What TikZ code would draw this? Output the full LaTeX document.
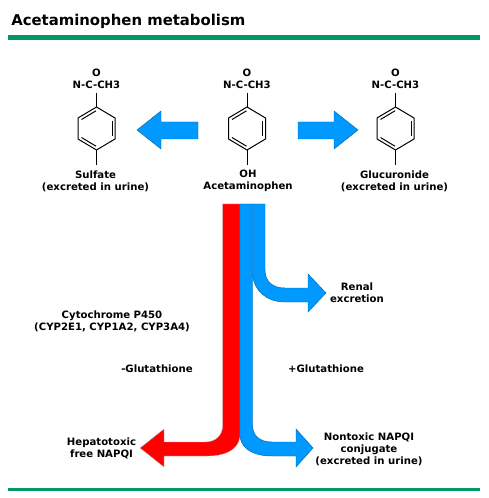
\documentclass[tikz,border=0pt]{standalone}
\usepackage{fontspec}
\setmainfont{DejaVu Sans}
\usepackage{xcolor}
\definecolor{rule}{HTML}{009966}
\definecolor{flowB}{HTML}{0099FF}
\definecolor{flowR}{HTML}{FF0000}
\tikzset{
  lab/.style={font=\fontsize{7.6}{9}\selectfont\bfseries,align=center,inner sep=0pt},
  flowb/.style={fill=flowB,draw=flowB!68!black,line width=0.35pt},
  flowr/.style={fill=flowR,draw=gray!50,line width=0.3pt},
  bond/.style={black,line width=0.75pt}
}
\newcommand{\ringat}[1]{%
  \begin{scope}[shift={(#1,0)}]
  \draw[bond] (0,93) -- (0,107);
  \draw[bond] (0,150) -- (0,165);
  \draw[bond,line join=miter] (0,107) -- (18.5,118) -- (18.5,139) -- (0,150) -- (-18.5,139) -- (-18.5,118) -- cycle;
  \draw[bond] (15.5,121) -- (15.5,136);
  \draw[bond] (-15,119.5) -- (-0.5,110.8);
  \draw[bond] (-15,137.5) -- (-0.5,146.2);
  \end{scope}
}
\begin{document}
\begin{tikzpicture}[x=0.75pt,y=-0.75pt]
\useasboundingbox (0,0) rectangle (488,498);
\node[anchor=base west,inner sep=0pt,font=\fontsize{11.15}{14}\selectfont\bfseries] (title) at (11,25.5) {Acetaminophen metabolism};
\fill[rule] (8,35) rectangle (480,40);
\fill[rule] (8,488) rectangle (480,490.5);
% molecules
\ringat{96.5} \ringat{247} \ringat{395.5}
\node[lab] (oL) at (96.5,72.5) {O};
\node[lab] (nL) at (96.5,84.5) {N-C-CH3};
\node[lab] (oM) at (247,72.5) {O};
\node[lab] (nM) at (247,84.5) {N-C-CH3};
\node[lab] (oR) at (395.5,72.5) {O};
\node[lab] (nR) at (395.5,84.5) {N-C-CH3};
\node[lab] (sulfate) at (95.5,181) {Sulfate\\(excreted in urine)};
\node[lab] (acet) at (248,181) {OH\\Acetaminophen};
\node[lab] (gluc) at (394.5,181) {Glucuronide\\(excreted in urine)};
% side arrows
\draw[flowb] (198,122) -- (161,122) -- (161,111) -- (137,130) -- (161,149) -- (161,139) -- (198,139) -- cycle;
\draw[flowb] (298,122) -- (334,122) -- (334,111) -- (358,130) -- (334,149) -- (334,139) -- (298,139) -- cycle;
% main bands
\draw[flowr] (222.7,204) -- (240,204) -- (240,437) .. controls (238,450) and (225,456) .. (208,456)
  -- (164,456) -- (164,467) -- (140,448) -- (164,429) -- (164,442) -- (205,442)
  .. controls (216,442) and (222.7,435) .. (222.7,425) -- cycle;
\draw[flowb] (240,204) -- (252.5,204) -- (252.5,425) .. controls (252.5,435) and (259,442) .. (272,442)
  -- (296,442) -- (296,429) -- (313,448) -- (296,467) -- (296,456) -- (272,456)
  .. controls (255,456) and (242,450) .. (240,437) -- cycle;
\draw[flowb] (252.5,204) -- (265,204) -- (265,270) .. controls (265,281) and (272,288) .. (285,288)
  -- (308,288) -- (308,274) -- (326,293) -- (308,312) -- (308,302) -- (285,302)
  .. controls (266,302) and (254,290) .. (252.5,275) -- cycle;
% labels
\node[lab] (renal) at (357,293) {Renal\\excretion};
\node[lab] (cyp) at (112,321) {Cytochrome P450\\(CYP2E1, CYP1A2, CYP3A4)};
\node[lab] (minus) at (157,368.5) {-Glutathione};
\node[lab] (plus) at (326,368.5) {+Glutathione};
\node[lab] (hepato) at (101.5,448) {Hepatotoxic\\free NAPQI};
\node[lab] (nontox) at (369,449) {Nontoxic NAPQI\\conjugate\\(excreted in urine)};
\end{tikzpicture}
\end{document}
